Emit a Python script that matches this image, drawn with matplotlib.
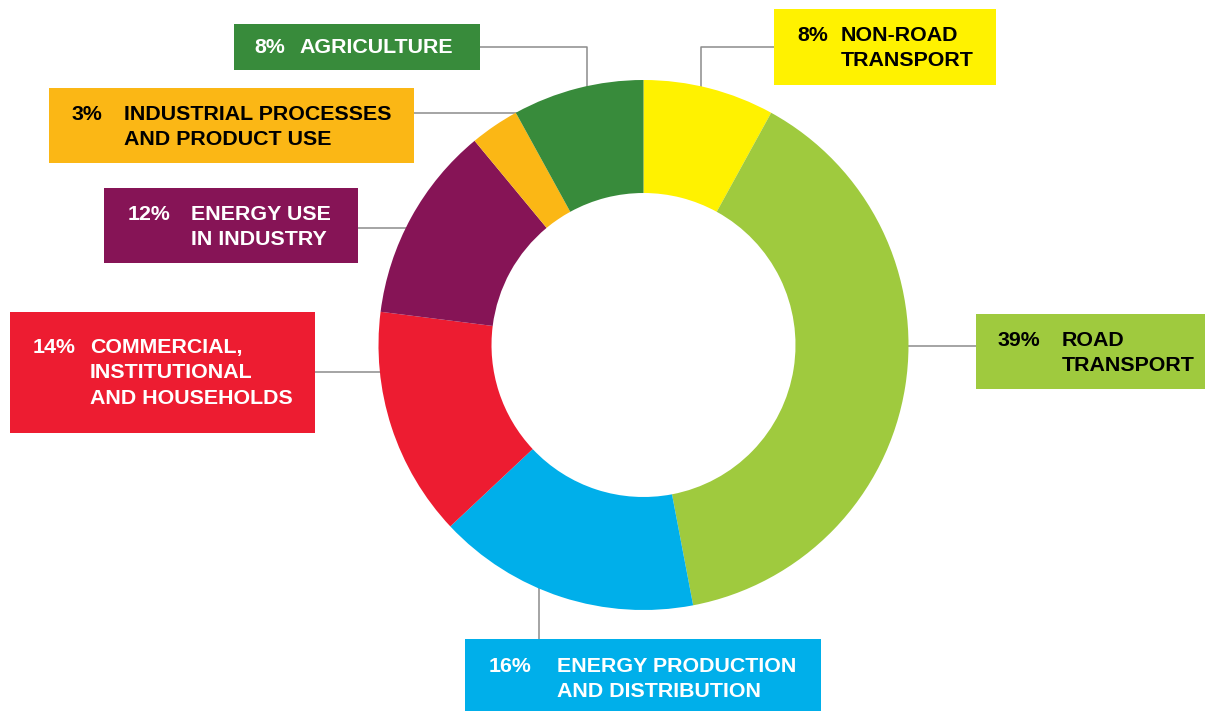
import matplotlib
matplotlib.use("Agg")
import matplotlib.pyplot as plt

# ---- data ----
categories = ["NON-ROAD\nTRANSPORT", "ROAD\nTRANSPORT", "ENERGY PRODUCTION\nAND DISTRIBUTION",
              "COMMERCIAL,\nINSTITUTIONAL\nAND HOUSEHOLDS", "ENERGY USE\nIN INDUSTRY",
              "INDUSTRIAL PROCESSES\nAND PRODUCT USE", "AGRICULTURE"]
shares = [8, 39, 16, 14, 12, 3, 8]
pct_labels = ["8%", "39%", "16%", "14%", "12%", "3%", "8%"]
colors = ["#FFF200", "#9FCA3E", "#00AFEA", "#ED1C31", "#861456", "#FBB715", "#388B3B"]
text_colors = ["black", "black", "white", "white", "white", "black", "white"]

# ---- layout (pixel coordinates) ----
W, H = 1205, 711
cx, cy, R, ring_w = 643.5, 345, 265, 113

boxes = [  # x0, x1, y0, y1
    (774, 996, 9, 85),
    (976, 1205, 314, 389),
    (465, 821, 639, 711),
    (10, 315, 312, 433),
    (104, 358, 188, 263),
    (49, 414, 88, 163),
    (234, 480, 24, 70),
]
text_pos = [  # pct x, label x, first baseline
    (797, 841, 41),
    (998, 1062, 346),
    (489, 557, 672),
    (33, 90, 353),
    (128, 191, 220),
    (72, 124, 120),
    (254, 299, 53),
]
connectors = [
    [(774, 46.5), (701, 46.5), (701, 130)],
    [(976, 346), (850, 346)],
    [(539, 639), (539, 560)],
    [(315, 372), (430, 372)],
    [(358, 228), (450, 228)],
    [(414, 113), (545, 113)],
    [(480, 46.5), (587, 46.5), (587, 130)],
]

plt.rcParams['font.family'] = ['Liberation Sans', 'DejaVu Sans']

fig = plt.figure(figsize=(W / 100, H / 100), dpi=100)
ax = fig.add_axes([0, 0, 1, 1])

# connector lines underneath the ring
for pts in connectors:
    xs, ys = zip(*pts)
    ax.plot(xs, ys, color="#8C8C8C", lw=1.1, zorder=1, solid_capstyle="butt")

ax.pie(shares, colors=colors, startangle=-90, counterclock=True, radius=R,
       center=(cx, cy), frame=True,
       wedgeprops=dict(width=ring_w, linewidth=0, zorder=2))

# label boxes
pitch = 25.3
fs = 15.4
for (x0, x1, y0, y1), (px, lx, by), col, tcol, pct, cat in zip(
        boxes, text_pos, colors, text_colors, pct_labels, categories):
    ax.add_patch(plt.Rectangle((x0, y0), x1 - x0, y1 - y0, facecolor=col,
                               edgecolor="none", zorder=3))
    ax.text(px, by, pct, color=tcol, fontsize=fs, fontweight="bold",
            ha="left", va="baseline", zorder=4)
    for i, line in enumerate(cat.split("\n")):
        ax.text(lx, by + i * pitch, line, color=tcol, fontsize=fs,
                fontweight="bold", ha="left", va="baseline", zorder=4)

ax.set_xlim(0, W)
ax.set_ylim(H, 0)
ax.set_aspect("auto")
ax.axis("off")

fig.savefig("out.png", dpi=100)
